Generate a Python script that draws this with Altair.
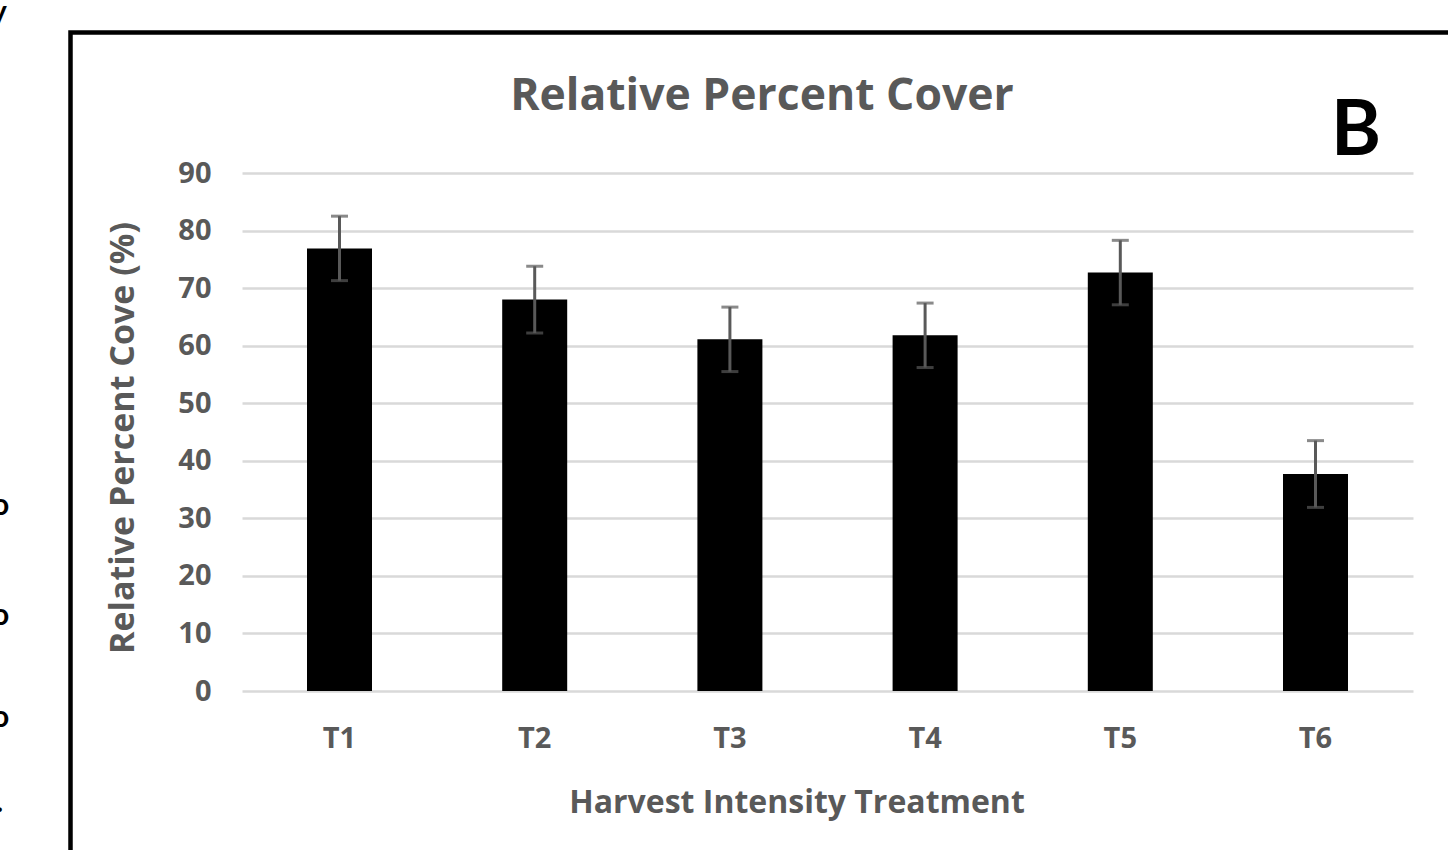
import altair as alt
import pandas as pd

# Treatment means and standard errors of relative percent cover
treatments = ["T1", "T2", "T3", "T4", "T5", "T6"]
cover = [76.9, 68.0, 61.1, 61.8, 72.7, 37.7]
std_err = [5.6, 5.8, 5.6, 5.6, 5.6, 5.8]

y_ticks = [0, 10, 20, 30, 40, 50, 60, 70, 80, 90]

df = pd.DataFrame({
    "treatment": treatments,
    "cover": cover,
    "lo": [c - e for c, e in zip(cover, std_err)],
    "hi": [c + e for c, e in zip(cover, std_err)],
})

GREY = "#595959"
FONT = "Open Sans"

W, H = 1171, 518

x_enc = alt.X(
    "treatment:N",
    sort=treatments,
    scale=alt.Scale(paddingInner=0.667, paddingOuter=0.333),
    axis=alt.Axis(
        title=None, labelAngle=0, ticks=False, tickSize=0, domain=False,
        labelFont=FONT, labelFontSize=29, labelFontWeight="bold",
        labelColor=GREY, labelBaseline="alphabetic", labelPadding=56,
        grid=False,
    ),
)
y_scale = alt.Scale(domain=[0, 90], nice=False, zero=True)

bars = alt.Chart(df).mark_bar(color="black").encode(
    x=x_enc,
    y=alt.Y(
        "cover:Q",
        scale=y_scale,
        axis=alt.Axis(
            title=None, values=y_ticks, ticks=False, tickSize=0, domain=False,
            labelFont=FONT, labelFontSize=29, labelFontWeight="bold",
            labelColor=GREY, labelPadding=31,
            grid=True, gridColor="#d9d9d9", gridWidth=2.5,
        ),
    ),
)

err_line = alt.Chart(df).mark_rule(color=GREY, strokeWidth=3).encode(
    x=alt.X("treatment:N", sort=treatments),
    y=alt.Y("lo:Q", scale=y_scale),
    y2="hi:Q",
)
cap_lo = alt.Chart(df).mark_tick(color=GREY, size=17, thickness=3).encode(
    x=alt.X("treatment:N", sort=treatments),
    y=alt.Y("lo:Q", scale=y_scale),
)
cap_hi = alt.Chart(df).mark_tick(color=GREY, size=17, thickness=3).encode(
    x=alt.X("treatment:N", sort=treatments),
    y=alt.Y("hi:Q", scale=y_scale),
)

# Frame around the panel (its right and bottom sides run past the page)
frame = alt.Chart(pd.DataFrame({"k": [0]})).mark_rect(
    fill=None, stroke="black", strokeWidth=4.5, clip=False
).encode(
    x=alt.value(-171.5), x2=alt.value(1230),
    y=alt.value(-140.5), y2=alt.value(700),
)

def label(text, x, y, size, color=GREY, angle=0, baseline="alphabetic", font=FONT):
    return alt.Chart(pd.DataFrame({"t": [text]})).mark_text(
        font=font, fontSize=size, fontWeight="bold", color=color,
        align="center", baseline=baseline, angle=angle,
    ).encode(text="t:N", x=alt.value(x), y=alt.value(y))

title = label("Relative Percent Cover", 520, -63, 44.5)
panel = label("B", 1114, -18, 76, color="black", font="Lato")
x_title = label("Harvest Intensity Treatment", 555, 640, 32)
y_title = label("Relative Percent Cove (%)", -118, 265, 34, angle=270, baseline="middle")

# Glyph edges of the neighbouring panel at the page's left border
edge_chars = ["y", ")", "o", "o", "o", "."]
edge_x = [-9, -8, -8, -8, -8, -4]
edge_y = [22, 145, 515, 625, 727, 812]
edge_df = pd.DataFrame({"c": edge_chars, "ex": [x - 242 for x in edge_x],
                        "ey": [y - 173 for y in edge_y]})
edges = alt.Chart(edge_df).mark_text(
    font="Lato", fontSize=30, fontWeight="bold", color="black",
    align="left", baseline="alphabetic",
).encode(
    text="c:N",
    x=alt.X("ex:Q", scale=None),
    y=alt.Y("ey:Q", scale=None),
)

chart = alt.layer(
    bars, err_line, cap_lo, cap_hi, frame, title, panel, x_title, y_title, edges
).properties(
    width=W, height=H,
    autosize=alt.AutoSizeParams(type="none"),
    padding={"left": 242, "top": 173, "right": 35, "bottom": 159},
    background="white",
).configure_view(stroke=None)

chart.save("out.html", embed_options={"renderer": "svg", "actions": False})
